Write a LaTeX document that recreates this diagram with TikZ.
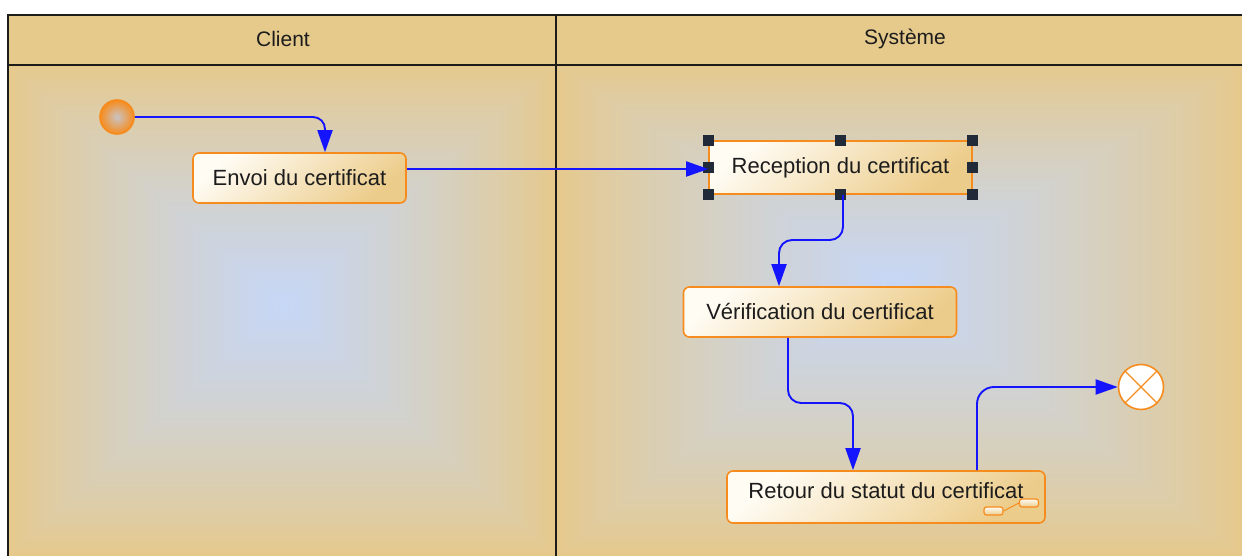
\documentclass[tikz,border=0pt]{standalone}
\usepackage{fontspec}
\setmainfont{Liberation Sans}
\usetikzlibrary{arrows.meta,calc}

\definecolor{tanbg}{RGB}{230,201,138}
\definecolor{bluebg}{RGB}{198,215,246}
\definecolor{headc}{RGB}{230,202,140}
\definecolor{laneline}{RGB}{30,28,24}
\definecolor{flowblue}{RGB}{20,20,255}
\definecolor{actborder}{RGB}{247,140,30}
\definecolor{actlight}{RGB}{255,252,244}
\definecolor{actdark}{RGB}{236,204,138}
\definecolor{handlec}{RGB}{32,42,56}
\definecolor{txt}{RGB}{28,28,28}
\definecolor{startcore}{RGB}{200,196,196}

\tikzset{
  laneedge/.style={draw=laneline, line width=2pt},
  hdr/.style={font=\fontsize{21}{24}\selectfont, text=txt, inner sep=0pt},
  act/.style={draw=actborder, line width=1.6pt, rounded corners=6pt,
    top color=actlight, bottom color=actdark, shading angle=40,
    font=\fontsize{22}{26}\selectfont, text=txt, inner sep=0pt},
  startnode/.style={circle, draw=actborder, line width=1.6pt, minimum size=34pt,
    inner sep=0pt, inner color=startcore, outer color=actborder},
  endnode/.style={circle, draw=actborder, line width=1.6pt, fill=white,
    minimum size=45pt, inner sep=0pt},
  flow/.style={draw=flowblue, line width=1.9pt, rounded corners=13pt,
    -{Triangle[length=22pt,width=15pt]}},
  handle/.style={fill=handlec},
  mini/.style={draw=actborder, line width=1.2pt, rounded corners=2.5pt,
    top color=actlight, bottom color=actdark, minimum width=19pt,
    minimum height=8pt, inner sep=0pt},
}

\begin{document}
\begin{tikzpicture}[x=1pt,y=-1pt]
\useasboundingbox (0,0) rectangle (1242,556);
\fill[white] (0,0) rectangle (1242,556);

% swimlane backgrounds: rectangular gradient, tan at the edge, pale blue in the middle
% each entry: left/top/right/bottom of the lane, then the light centre
\foreach \xa/\ya/\xb/\yb/\cx/\cy in {8/65/556/556/284/305, 556/65/1242/556/893/285} {
  \foreach \i in {0,...,119} {
    \pgfmathsetmacro\s{1-\i/120}
    \pgfmathsetmacro\t{\i/119}
    \pgfmathsetmacro\p{100*\t^0.8}
    \fill[bluebg!\p!tanbg]
      (\cx-\cx*\s+\xa*\s, \cy-\cy*\s+\ya*\s) rectangle (\cx-\cx*\s+\xb*\s, \cy-\cy*\s+\yb*\s);
  }
}

% header band
\fill[headc] (8,15) rectangle (1242,65);
\node[hdr] (client) at (283,39) {Client};
\node[hdr] (sys) at (905,39) {Système};

% lane borders
\draw[laneedge] (8,15) -- (1242,15);
\draw[laneedge] (8,65) -- (1242,65);
\draw[laneedge] (8,14) -- (8,556);
\draw[laneedge] (556,14) -- (556,556);

% activities
\node[act, minimum width=213pt, minimum height=50pt] (envoi) at (299.5,178) {Envoi du certificat};
\node[act, sharp corners, minimum width=263pt, minimum height=53pt] (recep) at (840.5,167.5) {Reception du certificat};
\node[act, minimum width=273pt, minimum height=50pt] (verif) at (820,312) {Vérification du certificat};
\node[act, minimum width=318pt, minimum height=52pt] (retour) at (886,497) {\raisebox{12pt}{Retour du statut du certificat}};

% sub-activity marker
\node[mini] (ic1) at (993.5,511) {};
\node[mini] (ic2) at (1029,503) {};
\draw[actborder, line width=1pt] (ic1.east) -- (ic2.west);

% start and final nodes
\node[startnode] (init) at (117,117) {};
\node[endnode] (fin) at (1141,387) {};
\draw[actborder, line width=1.2pt] (fin.north west) -- (fin.south east);
\draw[actborder, line width=1.2pt] (fin.north east) -- (fin.south west);

% selection handles around the selected activity
\foreach \a in {north west, north, north east, east, south east, south, south west, west}
  \fill[handle] ($(recep.\a)+(-5.5,-5.5)$) rectangle ++(11,11);

% control flows
\coordinate (k1) at (325,117);
\draw[flow, rounded corners=12pt] (init.east) -- (k1) -- (k1 |- envoi.north);

\coordinate (k2) at (406,169);
\draw[flow] (envoi.east |- k2) -- (recep.west |- k2);

\coordinate (k3a) at (843,240);
\coordinate (k3b) at (779,240);
\draw[flow] (recep.south -| k3a) -- (k3a) -- (k3b) -- (k3b |- verif.north);

\coordinate (k4a) at (788,403);
\coordinate (k4b) at (853,403);
\draw[flow] (verif.south -| k4a) -- (k4a) -- (k4b) -- (k4b |- retour.north);

\coordinate (k5) at (977,387);
\draw[flow, rounded corners=17pt] (retour.north -| k5) -- (k5) -- (fin.west);
\end{tikzpicture}
\end{document}
